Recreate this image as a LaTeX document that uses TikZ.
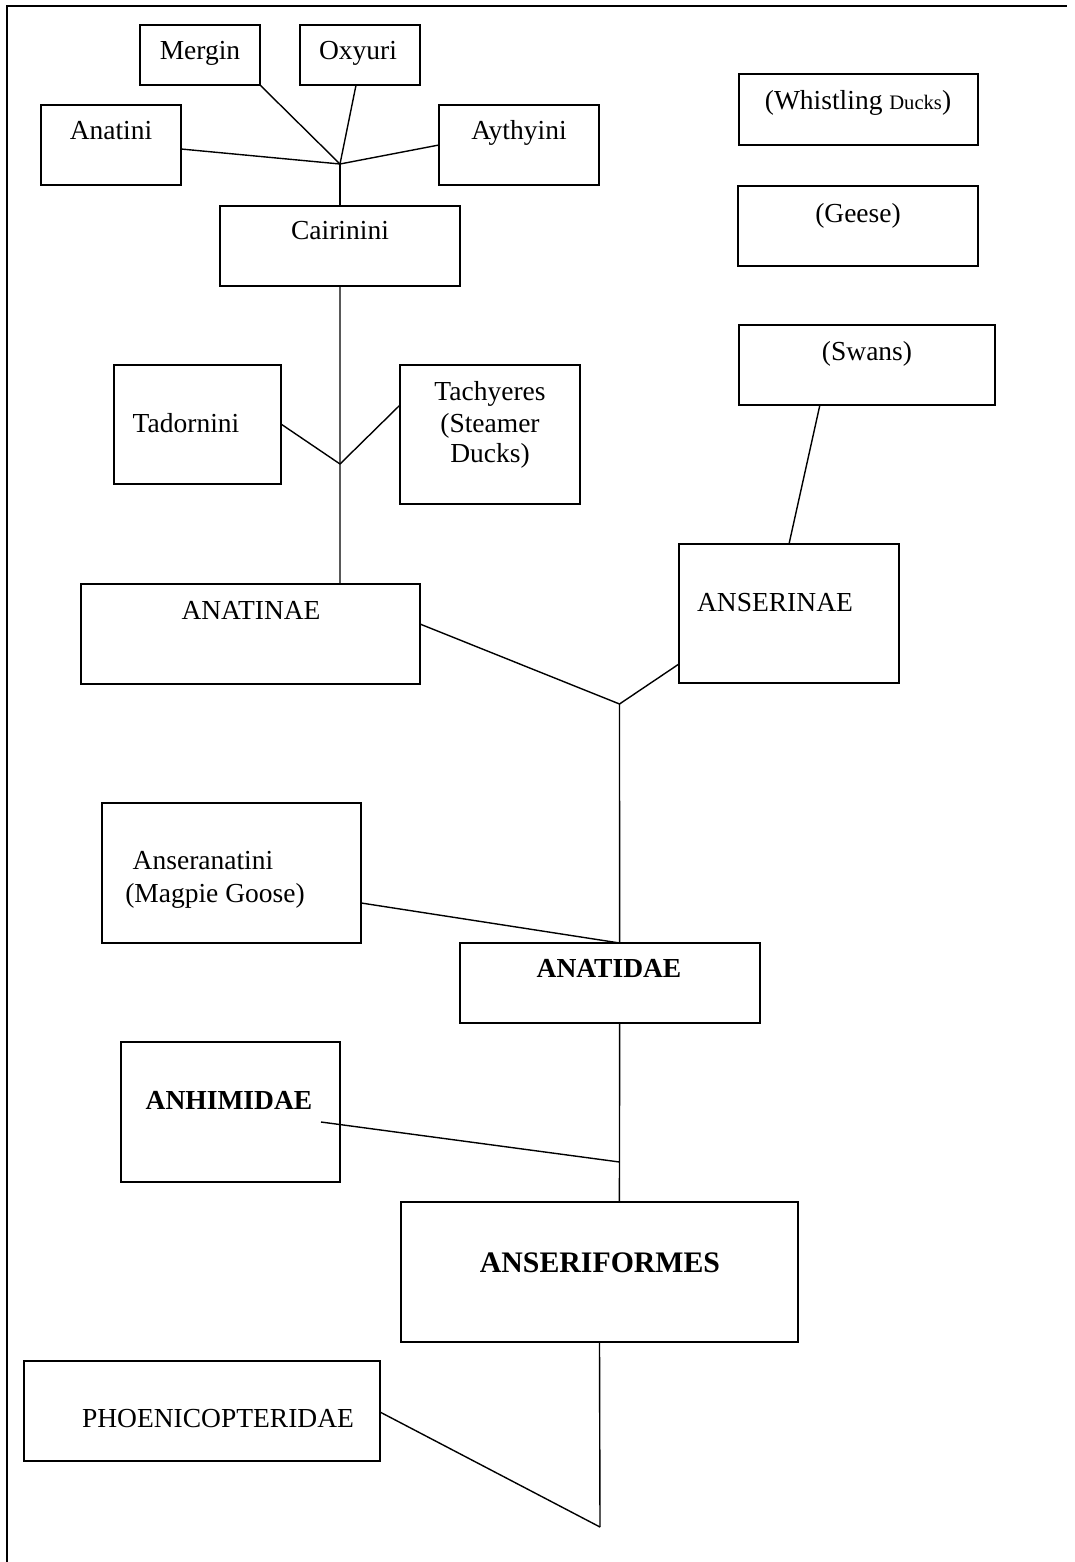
\documentclass[tikz,border=0pt]{standalone}
\usepackage{fontspec}
\setmainfont{Liberation Serif}
\usetikzlibrary{calc}
\tikzset{
  box/.style={draw, line width=0.85pt, rectangle, inner sep=0pt, outer sep=0pt},
  lbl/.style={anchor=base, inner sep=0pt, font=\fontsize{13.75}{16}\selectfont},
  blbl/.style={anchor=base, inner sep=0pt, font=\fontsize{13.75}{16}\selectfont\bfseries},
  conn/.style={line width=0.7pt},
  frame/.style={line width=1.1pt}
}
\newcommand\mybox[5]{\node[box, minimum width={(#4-#2)*0.5pt}, minimum height={(#5-#3)*0.5pt}] (#1) at ({(#2+#4)/2},{(#3+#5)/2}) {};}
\begin{document}
\begin{tikzpicture}[x=0.5pt,y=-0.5pt]
\useasboundingbox (0,0) rectangle (1075,1562);
% frame (top and left)
\draw[frame] (7,1562) -- (7,6) -- (1067,6);

% boxes
\mybox{mergin}{140}{25}{260}{85}
\mybox{oxyuri}{300}{25}{420}{85}
\mybox{anatini}{41}{105}{181}{185}
\mybox{aythyini}{439}{105}{599}{185}
\mybox{cairinini}{220}{206}{460}{286}
\mybox{whistling}{739}{74}{978}{145}
\mybox{geese}{738}{186}{978}{266}
\mybox{swans}{739}{325}{995}{405}
\mybox{tadornini}{114}{365}{281}{484}
\mybox{tachyeres}{400}{365}{580}{504}
\mybox{anatinae}{81}{584}{420}{684}
\mybox{anserinae}{679}{544}{899}{683}
\mybox{anseranatini}{102}{803}{361}{943}
\mybox{anatidae}{460}{943}{760}{1023}
\mybox{anhimidae}{121}{1042}{340}{1182}
\mybox{anseriformes}{401}{1202}{798}{1342}
\mybox{phoen}{24}{1361}{380}{1461}

% texts
\node[lbl] (t-mergin) at (200,60) {Mergin};
\node[lbl] (t-oxyuri) at (358,60) {Oxyuri};
\node[lbl] (t-anatini) at (111,140) {Anatini};
\node[lbl] (t-aythyini) at (519,140) {Aythyini};
\node[lbl] (t-cairinini) at (340,240) {Cairinini};
\node[lbl] (t-whistling) at (858,110) {(Whistling {\fontsize{10.3}{12}\selectfont Ducks})};
\node[lbl] (t-geese) at (858,222) {(Geese)};
\node[lbl] (t-swans) at (867,360) {(Swans)};
\node[lbl] (t-tadornini) at (186,432) {Tadornini};
\node[lbl] (t-tach1) at (490,400) {Tachyeres};
\node[lbl] (t-tach2) at (490,432) {(Steamer};
\node[lbl] (t-tach3) at (490,462) {Ducks)};
\node[lbl] (t-anatinae) at (251,619) {ANATINAE};
\node[lbl] (t-anserinae) at (775,611) {ANSERINAE};
\node[lbl] (t-ansera1) at (203,869) {Anseranatini};
\node[lbl] (t-ansera2) at (215,902) {(Magpie Goose)};
\node[blbl] (t-anatidae) at (609,977) {ANATIDAE};
\node[blbl] (t-anhimidae) at (229,1109) {ANHIMIDAE};
\node[anchor=base, inner sep=0pt, font=\fontsize{14.9}{17}\selectfont\bfseries] (t-anseriformes) at (600,1272) {ANSERIFORMES};
\node[lbl] (t-phoen) at (218,1427) {PHOENICOPTERIDAE};

% junctions
\coordinate (j1) at (340,164);
\coordinate (j2) at (340,464);
\coordinate (j3) at (619.5,704);
\coordinate (j5) at (619.5,1162);
\coordinate (j6) at (600,1527);

% connectors
\draw[conn] ($(anatini.north east)!0.55!(anatini.south east)$) -- (j1);
\draw[conn] (mergin.south east) -- (j1);
\draw[conn] ($(oxyuri.south west)!0.467!(oxyuri.south east)$) -- (j1);
\draw[conn] (aythyini.west) -- (j1);
\draw[conn] (j1) -- (cairinini.north);
\draw[conn] (cairinini.south) -- (j2) -- ($(anatinae.north west)!0.764!(anatinae.north east)$);
\draw[conn] ($(tadornini.north east)!0.496!(tadornini.south east)$) -- (j2);
\draw[conn] ($(tachyeres.north west)!0.288!(tachyeres.south west)$) -- (j2);
\draw[conn] ($(anatinae.north east)!0.4!(anatinae.south east)$) -- (j3);
\draw[conn] ($(anserinae.north west)!0.863!(anserinae.south west)$) -- (j3);
\draw[conn] ($(swans.south west)!0.316!(swans.south east)$) -- (anserinae.north);
\draw[conn] (j3) -- ($(anatidae.north west)!0.532!(anatidae.north east)$);
\draw[conn] ($(anseranatini.north east)!0.714!(anseranatini.south east)$) -- ($(anatidae.north west)!0.532!(anatidae.north east)$);
\draw[conn] ($(anatidae.south west)!0.532!(anatidae.south east)$) -- (j5) -- ($(anseriformes.north west)!0.55!(anseriformes.north east)$);
\draw[conn] ($(anhimidae.east)+(-19,10)$) -- (j5);
\draw[conn] (anseriformes.south) -- (j6);
\draw[conn] ($(phoen.north east)!0.51!(phoen.south east)$) -- (j6);
\end{tikzpicture}
\end{document}
